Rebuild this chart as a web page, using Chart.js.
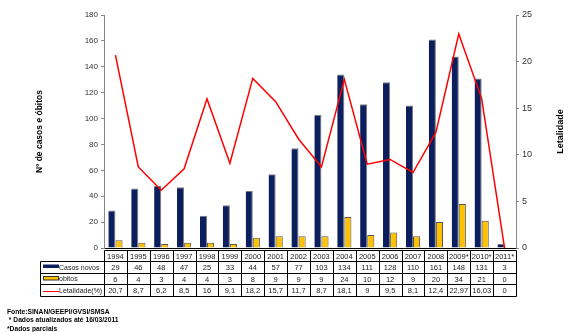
<!DOCTYPE html>
<html>
<head>
<meta charset="utf-8">
<script src="https://cdn.jsdelivr.net/npm/chart.js@4/dist/chart.umd.min.js"></script>
<style>
  html, body { margin: 0; padding: 0; background: #fff; }
  #wrap { width: 568px; height: 332px; position: relative; }
</style>
</head>
<body>
<div id="wrap"><canvas id="c" width="568" height="332"></canvas></div>
<script>
// Série histórica: casos novos, óbitos e letalidade por ano
const anos = ['1994','1995','1996','1997','1998','1999','2000','2001','2002','2003','2004','2005','2006','2007','2008','2009*','2010*','2011*'];
const casosNovos = [29, 46, 48, 47, 25, 33, 44, 57, 77, 103, 134, 111, 128, 110, 161, 148, 131, 3];
const obitos = [6, 4, 3, 4, 4, 3, 8, 9, 9, 9, 24, 10, 12, 9, 20, 34, 21, 0];
const letalidade = [20.7, 8.7, 6.2, 8.5, 16, 9.1, 18.2, 15.7, 11.7, 8.7, 18.1, 9, 9.5, 8.1, 12.4, 22.97, 16.03, 0];

const ticksCasos = [0, 20, 40, 60, 80, 100, 120, 140, 160, 180];
const ticksLetalidade = [0, 5, 10, 15, 20, 25];

const rotulosSerie = ['Casos novos', 'obitos', 'Letalidade(%)'];
const tituloEsq = 'Nº de casos e óbitos';
const tituloDir = 'Letalidade';
const rodape = ['Fonte:SINAN/GEEPI/GVSI/SMSA', ' * Dados atualizados até 16/03/2011', '*Dados parciais'];

const COR_CASOS = '#0b1f5e';
const COR_OBITOS = '#ffc000';
const COR_LETAL = '#ff0000';
const FONTE = '"Liberation Sans", Arial, sans-serif';

const fmt = v => String(v).replace('.', ',');

// Tabela de dados, títulos dos eixos e rodapé desenhados sob o gráfico
const tabelaPlugin = {
  id: 'tabela',
  afterDraw(chart) {
    const ctx = chart.ctx;
    const xs = chart.scales.x;
    const area = chart.chartArea;
    const n = anos.length;
    const cw = (area.right - area.left) / n;
    const legL = 40.5;
    const tops = [250.5, 261.5, 273.5, 284.5, 296.5];
    const colEdge = i => Math.round(xs.getPixelForValue(i) - cw / 2) + 0.5;
    const rightEdge = Math.round(area.right) + 0.5;

    ctx.save();
    ctx.strokeStyle = '#000';
    ctx.lineWidth = 1;

    // linhas horizontais
    ctx.beginPath();
    ctx.moveTo(colEdge(0), tops[0]); ctx.lineTo(rightEdge, tops[0]);
    for (let r = 1; r < tops.length; r++) {
      ctx.moveTo(legL, tops[r]); ctx.lineTo(rightEdge, tops[r]);
    }
    // verticais
    for (let i = 0; i < n; i++) {
      ctx.moveTo(colEdge(i), tops[0]); ctx.lineTo(colEdge(i), tops[4]);
    }
    ctx.moveTo(rightEdge, tops[0]); ctx.lineTo(rightEdge, tops[4]);
    ctx.moveTo(legL, tops[1]); ctx.lineTo(legL, tops[4]);
    ctx.stroke();

    // textos das células
    ctx.fillStyle = '#222';
    ctx.textAlign = 'center';
    ctx.textBaseline = 'middle';
    ctx.font = '7.5px ' + FONTE;
    const linhas = [anos, casosNovos.map(fmt), obitos.map(fmt), letalidade.map(fmt)];
    for (let r = 0; r < 4; r++) {
      const yc = (tops[r] + tops[r + 1]) / 2 + 0.5;
      for (let i = 0; i < n; i++) {
        ctx.fillText(linhas[r][i], xs.getPixelForValue(i), yc);
      }
    }

    // coluna de legenda
    ctx.font = '7px ' + FONTE;
    ctx.textAlign = 'left';
    const kx0 = 43, kx1 = 59;
    let yc = (tops[1] + tops[2]) / 2;
    ctx.fillStyle = COR_CASOS;
    ctx.fillRect(kx0, yc - 3, kx1 - kx0, 3.5);
    ctx.fillStyle = '#222';
    ctx.fillText(rotulosSerie[0], 59, yc + 0.5);

    yc = (tops[2] + tops[3]) / 2;
    ctx.fillStyle = COR_OBITOS;
    ctx.fillRect(kx0, yc - 2.5, kx1 - kx0, 3.5);
    ctx.strokeStyle = '#333';
    ctx.strokeRect(kx0 + 0.5, yc - 2.5, kx1 - kx0 - 1, 3.5);
    ctx.fillStyle = '#222';
    ctx.fillText(rotulosSerie[1], 59, yc + 0.5);

    yc = (tops[3] + tops[4]) / 2;
    ctx.strokeStyle = COR_LETAL;
    ctx.lineWidth = 1;
    ctx.beginPath(); ctx.moveTo(kx0, Math.round(yc) + 0.5); ctx.lineTo(kx1, Math.round(yc) + 0.5); ctx.stroke();
    ctx.fillStyle = '#222';
    ctx.fillText(rotulosSerie[2], 59, yc + 0.5);

    // títulos dos eixos
    const cy = (area.top + area.bottom) / 2;
    ctx.fillStyle = '#000';
    ctx.textAlign = 'center';
    ctx.font = 'bold 8.5px ' + FONTE;
    ctx.save(); ctx.translate(40, cy); ctx.rotate(-Math.PI / 2); ctx.fillText(tituloEsq, 0, 0); ctx.restore();
    ctx.font = 'bold 9px ' + FONTE;
    ctx.save(); ctx.translate(561, cy); ctx.rotate(-Math.PI / 2); ctx.fillText(tituloDir, 0, 0); ctx.restore();

    // rodapé
    ctx.textAlign = 'left';
    ctx.textBaseline = 'alphabetic';
    ctx.font = 'bold 6.7px ' + FONTE;
    ctx.fillText(rodape[0], 7, 314);
    ctx.fillText(rodape[1], 7, 322);
    ctx.fillText(rodape[2], 7, 331);
    ctx.restore();
  }
};

new Chart(document.getElementById('c'), {
  type: 'bar',
  data: {
    labels: anos,
    datasets: [
      {
        label: rotulosSerie[0], data: casosNovos, yAxisID: 'y',
        backgroundColor: COR_CASOS, borderColor: '#7a7a7a',
        borderWidth: { top: 1, right: 1, left: 0, bottom: 0 },
        categoryPercentage: 0.62, barPercentage: 1.0, order: 2
      },
      {
        label: rotulosSerie[1], data: obitos, yAxisID: 'y',
        backgroundColor: COR_OBITOS, borderColor: '#555',
        borderWidth: 1,
        categoryPercentage: 0.62, barPercentage: 1.0, order: 2
      },
      {
        type: 'line', label: rotulosSerie[2], data: letalidade, yAxisID: 'y1',
        borderColor: COR_LETAL, borderWidth: 1.5, pointRadius: 0, tension: 0, fill: false, order: 1
      }
    ]
  },
  options: {
    responsive: false,
    devicePixelRatio: 1,
    animation: false,
    layout: { padding: { top: 15, left: 0, right: 0, bottom: 0 } },
    plugins: { legend: { display: false }, tooltip: { enabled: false } },
    scales: {
      x: {
        ticks: { display: false },
        grid: { display: false },
        border: { display: true, color: '#000', width: 1 },
        afterFit(s) { s.height = 84; }
      },
      y: {
        position: 'left', min: 0, max: 180,
        afterBuildTicks(s) { s.ticks = ticksCasos.map(v => ({ value: v })); },
        ticks: { color: '#333', font: { size: 8, family: FONTE }, padding: 3 },
        grid: { drawOnChartArea: false, tickLength: 3, color: '#888' },
        border: { color: '#888', width: 1 },
        afterFit(s) { s.width = 104; }
      },
      y1: {
        position: 'right', min: 0, max: 25,
        afterBuildTicks(s) { s.ticks = ticksLetalidade.map(v => ({ value: v })); },
        ticks: { color: '#333', font: { size: 9, family: FONTE }, padding: 3 },
        grid: { drawOnChartArea: false, tickLength: 3, color: '#888' },
        border: { color: '#888', width: 1 },
        afterFit(s) { s.width = 52; }
      }
    }
  },
  plugins: [tabelaPlugin]
});
</script>
</body>
</html>
